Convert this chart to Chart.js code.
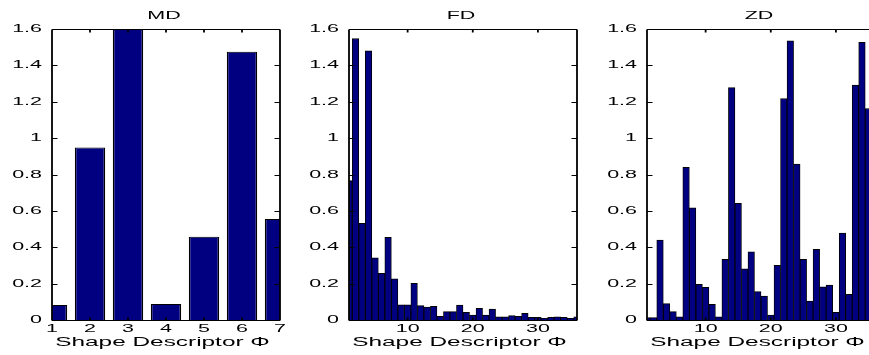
<!DOCTYPE html>
<html>
<head>
<meta charset="utf-8">
<script src="https://cdn.jsdelivr.net/npm/chart.js@4.4.1/dist/chart.umd.min.js"></script>
<style>
html, body { margin: 0; padding: 0; background: #fff; overflow: hidden; width: 869px; height: 355px; }
canvas { position: absolute; top: 0; display: block; }
</style>
</head>
<body>
<canvas id="md-chart" width="298" height="355" style="left:0px"></canvas>
<canvas id="fd-chart" width="298" height="355" style="left:297px"></canvas>
<canvas id="zd-chart" width="298" height="355" style="left:595px"></canvas>
<script>
// descriptor indices and values
const mdIndex = [1, 2, 3, 4, 5, 6, 7];
const mdValues = [0.082, 0.948, 1.6, 0.088, 0.458, 1.475, 0.555];
const mdTicks = [1, 2, 3, 4, 5, 6, 7];

const fdIndex = [1, 2, 3, 4, 5, 6, 7, 8, 9, 10, 11, 12, 13, 14, 15, 16, 17, 18,
    19, 20, 21, 22, 23, 24, 25, 26, 27, 28, 29, 30, 31, 32, 33, 34, 35, 36];
const fdValues = [0.766, 1.548, 0.531, 1.48, 0.342, 0.256, 0.454, 0.227, 0.084,
    0.084, 0.201, 0.079, 0.071, 0.075, 0.02, 0.046, 0.046, 0.082, 0.042, 0.027,
    0.064, 0.027, 0.06, 0.018, 0.018, 0.024, 0.02, 0.037, 0.015, 0.015, 0.009,
    0.015, 0.018, 0.015, 0.009, 0.018];
const fdTicks = [10, 20, 30];

const zdIndex = [1, 2, 3, 4, 5, 6, 7, 8, 9, 10, 11, 12, 13, 14, 15, 16, 17, 18,
    19, 20, 21, 22, 23, 24, 25, 26, 27, 28, 29, 30, 31, 32, 33, 34, 35];
const zdValues = [0.013, 0.013, 0.44, 0.09, 0.046, 0.018, 0.84, 0.617, 0.196,
    0.18, 0.086, 0.018, 0.333, 1.278, 0.641, 0.282, 0.375, 0.156, 0.132, 0.027,
    0.30, 1.218, 1.535, 0.857, 0.333, 0.104, 0.388, 0.183, 0.192, 0.042, 0.478,
    0.141, 1.291, 1.527, 1.163];
const zdTicks = [10, 20, 30];

const yTicks = [0, 0.2, 0.4, 0.6, 0.8, 1, 1.2, 1.4, 1.6];
const xTitle = 'Shape Descriptor \u03A6';

// layout (px)
const CANVAS_W = 298;
const AXIS_W = 52;
const PLOT_W = 228;
const TOP_PAD = 29;
const XAXIS_H = 35;
const TEXT_SX = 1.95;     // the reference text is stretched sideways
const FONT = "'Liberation Sans', Arial, sans-serif";

function stretchText(ctx, text, x, y, size, align) {
    ctx.save();
    ctx.font = size + 'px ' + FONT;
    ctx.fillStyle = '#000';
    ctx.textAlign = align;
    ctx.textBaseline = 'middle';
    ctx.translate(x, y);
    ctx.scale(TEXT_SX, 1);
    ctx.fillText(text, 0, 0);
    ctx.restore();
}

// matlab style box, inward ticks and all the text
const framePlugin = {
    id: 'frame',
    afterDraw(chart, args, opts) {
        const ctx = chart.ctx;
        const a = chart.chartArea;
        const x = chart.scales.x;
        const y = chart.scales.y;
        const top = Math.round(a.top) + 0.5;
        const bottom = Math.round(a.bottom) + 0.5;
        const mid = (a.left + a.right) / 2;

        ctx.save();
        ctx.strokeStyle = '#000';
        // horizontal edges and y ticks
        ctx.lineWidth = 1;
        ctx.beginPath();
        ctx.moveTo(a.left, top);
        ctx.lineTo(a.right, top);
        ctx.moveTo(a.left, bottom);
        ctx.lineTo(a.right, bottom);
        y.ticks.forEach(t => {
            const py = Math.round(y.getPixelForValue(t.value)) + 0.5;
            ctx.moveTo(a.left, py);
            ctx.lineTo(a.left + 5.5, py);
            ctx.moveTo(a.right, py);
            ctx.lineTo(a.right - 5.5, py);
        });
        ctx.stroke();
        // vertical edges and x ticks are drawn wider, like the stretched original
        ctx.lineWidth = 1.8;
        ctx.beginPath();
        ctx.moveTo(a.left, top);
        ctx.lineTo(a.left, bottom);
        ctx.moveTo(a.right, top);
        ctx.lineTo(a.right, bottom);
        x.ticks.forEach(t => {
            const px = x.getPixelForValue(t.value);
            ctx.moveTo(px, bottom);
            ctx.lineTo(px, bottom - 3);
            ctx.moveTo(px, top);
            ctx.lineTo(px, top + 3);
        });
        ctx.stroke();
        ctx.restore();

        x.ticks.forEach(t => {
            stretchText(ctx, String(t.value), x.getPixelForValue(t.value), a.bottom + 9, 11, 'center');
        });
        y.ticks.forEach(t => {
            stretchText(ctx, String(t.value), a.left - 10, y.getPixelForValue(t.value), 11, 'right');
        });
        stretchText(ctx, opts.title, mid - 2, 16, 11, 'center');
        stretchText(ctx, xTitle, mid - 3.5, 343, 12.5, 'center');
    }
};

function panelOptions(title, xMax, xTicks) {
    return {
        responsive: false,
        devicePixelRatio: 1,
        animation: false,
        layout: {
            padding: { left: 0, right: CANVAS_W - AXIS_W - PLOT_W, top: TOP_PAD, bottom: 0 }
        },
        plugins: {
            legend: { display: false },
            tooltip: { enabled: false },
            frame: { title: title }
        },
        scales: {
            x: {
                type: 'linear',
                min: 1,
                max: xMax,
                offset: false,
                grid: { display: false, drawTicks: false },
                border: { display: false },
                ticks: { display: false },
                afterBuildTicks: scale => {
                    scale.ticks = xTicks.map(v => ({ value: v }));
                },
                afterFit: scale => {
                    scale.height = XAXIS_H;
                }
            },
            y: {
                min: 0,
                max: 1.6,
                grid: { display: false, drawTicks: false },
                border: { display: false },
                ticks: { display: false },
                afterBuildTicks: scale => {
                    scale.ticks = yTicks.map(v => ({ value: v }));
                },
                afterFit: scale => {
                    scale.width = AXIS_W;
                }
            }
        }
    };
}

function makePanel(canvasId, title, index, values, xMax, xTicks, barPct, edge) {
    return new Chart(document.getElementById(canvasId), {
        type: 'bar',
        data: {
            labels: index,
            datasets: [{
                data: values,
                backgroundColor: '#000080',
                borderColor: '#000',
                borderWidth: { left: edge, right: edge, top: 1, bottom: 0 },
                borderSkipped: false,
                barPercentage: barPct,
                categoryPercentage: 1
            }]
        },
        options: panelOptions(title, xMax, xTicks),
        plugins: [framePlugin]
    });
}

makePanel('md-chart', 'MD', mdIndex, mdValues, 7, mdTicks, 0.8, 1.5);
makePanel('fd-chart', 'FD', fdIndex, fdValues, 36, fdTicks, 1, 0.9);
makePanel('zd-chart', 'ZD', zdIndex, zdValues, 36, zdTicks, 1, 0.9);
</script>
</body>
</html>
